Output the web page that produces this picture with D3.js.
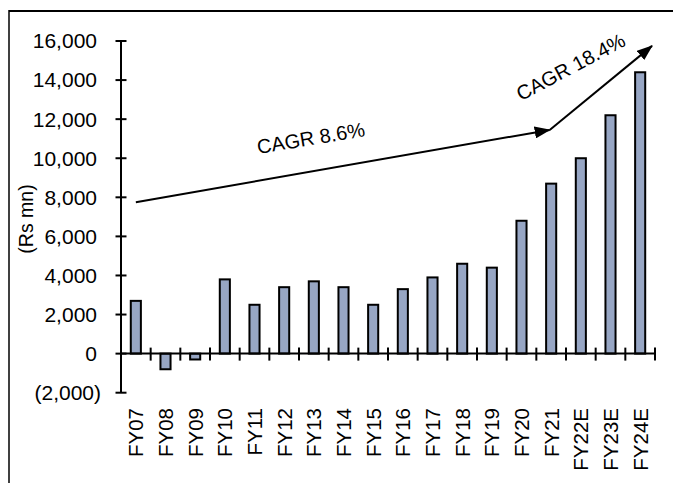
<!DOCTYPE html>
<html>
<head>
<meta charset="utf-8">
<script src="https://cdn.jsdelivr.net/npm/d3@7"></script>
<style>
  html, body { margin: 0; padding: 0; background: #fff; }
  svg { display: block; }
  svg text { font-family: "Liberation Sans", Arial, Helvetica, sans-serif; }
</style>
</head>
<body>
<svg id="chart" width="673" height="483"></svg>
<script>
// Fiscal years (E = estimate)
const categories = ["FY07","FY08","FY09","FY10","FY11","FY12","FY13","FY14","FY15",
                    "FY16","FY17","FY18","FY19","FY20","FY21","FY22E","FY23E","FY24E"];
// Values in Rs mn
const values = [2700, -800, -300, 3800, 2500, 3400, 3700, 3400, 2500,
                3300, 3900, 4600, 4400, 6800, 8700, 10000, 12200, 14400];
const yTicks = [-2000, 0, 2000, 4000, 6000, 8000, 10000, 12000, 14000, 16000];
// Growth-trend annotations: [category position, value]
const trendHist = [[0.5, 7750], [14.45, 11450]];
const trendFcst = [[14.45, 11450], [17.9, 15750]];
const trendLabels = ["CAGR 8.6%", "CAGR 18.4%"];

const svg = d3.select("#chart");
const plotLeft = 121, plotRight = 655, plotTop = 41, plotBottom = 392.7;

const x = d3.scaleBand().domain(categories).range([plotLeft, plotRight])
  .paddingInner(0.66).paddingOuter(0.33);
const xPos = d3.scaleLinear().domain([0, categories.length]).range([plotLeft, plotRight]);
const y = d3.scaleLinear().domain([-2000, 16000]).range([plotBottom, plotTop]);

// frame
svg.append("line").attr("x1", 9).attr("x2", 673).attr("y1", 11).attr("y2", 11)
  .attr("stroke", "#000").attr("stroke-width", 2);
svg.append("line").attr("x1", 9).attr("x2", 9).attr("y1", 10).attr("y2", 483)
  .attr("stroke", "#000").attr("stroke-width", 1.5);

// bars
svg.append("g").selectAll("rect").data(values).join("rect")
  .attr("x", (d, i) => x(categories[i]))
  .attr("width", x.bandwidth())
  .attr("y", d => y(Math.max(0, d)))
  .attr("height", d => Math.abs(y(d) - y(0)))
  .attr("fill", "#97a6c4")
  .attr("stroke", "#000")
  .attr("stroke-width", 2);

// y axis
const fmt = d3.format(",");
const yg = svg.append("g");
yg.append("line").attr("x1", plotLeft).attr("x2", plotLeft).attr("y1", y(16000)).attr("y2", y(-2000))
  .attr("stroke", "#000").attr("stroke-width", 2);
yg.selectAll("line.t").data(yTicks).join("line").attr("class", "t")
  .attr("x1", plotLeft - 5.5).attr("x2", plotLeft + 5.5)
  .attr("y1", d => y(d)).attr("y2", d => y(d))
  .attr("stroke", "#000").attr("stroke-width", 2);
yg.selectAll("text").data(yTicks).join("text")
  .attr("x", d => d < 0 ? 101 : 97)
  .attr("y", d => y(d))
  .attr("dy", "0.35em")
  .attr("text-anchor", "end")
  .attr("font-size", 21)
  .attr("fill", "#000")
  .text(d => d < 0 ? "(" + fmt(-d) + ")" : fmt(d));

// x axis at zero
const xg = svg.append("g");
xg.append("line").attr("x1", plotLeft).attr("x2", plotRight).attr("y1", y(0)).attr("y2", y(0))
  .attr("stroke", "#000").attr("stroke-width", 2);
xg.selectAll("line.t").data(d3.range(1, categories.length + 1)).join("line").attr("class", "t")
  .attr("x1", d => xPos(d)).attr("x2", d => xPos(d))
  .attr("y1", y(0) - 6).attr("y2", y(0) + 7)
  .attr("stroke", "#000").attr("stroke-width", 2);
xg.selectAll("text").data(categories).join("text")
  .attr("transform", d => `translate(${x(d) + x.bandwidth() / 2},408) rotate(-90)`)
  .attr("dy", "0.36em")
  .attr("text-anchor", "end")
  .attr("font-size", 20.5)
  .attr("fill", "#000")
  .text(d => d);

// y axis title
svg.append("text")
  .attr("transform", "translate(26,219) rotate(-90)")
  .attr("dy", "0.35em")
  .attr("text-anchor", "middle")
  .attr("font-size", 19.5)
  .text("(Rs mn)");

// trend arrows
const defs = svg.append("defs");
defs.append("marker").attr("id", "arrow")
  .attr("viewBox", "0 0 16 12").attr("refX", 15).attr("refY", 6)
  .attr("markerWidth", 16).attr("markerHeight", 12)
  .attr("markerUnits", "userSpaceOnUse").attr("orient", "auto")
  .append("path").attr("d", "M0,0 L16,6 L0,12 Z").attr("fill", "#000");

const line = d3.line().x(d => xPos(d[0])).y(d => y(d[1]));
[trendHist, trendFcst].forEach(seg => {
  svg.append("path").attr("d", line(seg))
    .attr("fill", "none").attr("stroke", "#000").attr("stroke-width", 2)
    .attr("marker-end", "url(#arrow)");
});

svg.append("text")
  .attr("transform", "translate(312,145) rotate(-9.5)")
  .attr("text-anchor", "middle").attr("font-size", 20)
  .text(trendLabels[0]);
svg.append("text")
  .attr("transform", "translate(574,73) rotate(-28)")
  .attr("text-anchor", "middle").attr("font-size", 20)
  .text(trendLabels[1]);
</script>
</body>
</html>
